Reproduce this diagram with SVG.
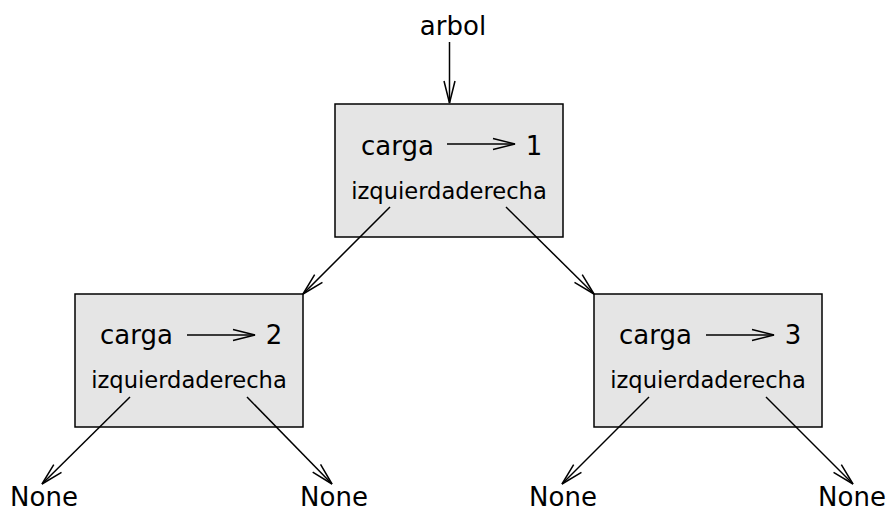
<svg xmlns="http://www.w3.org/2000/svg" width="887" height="507" viewBox="0 0 887 507">
<defs>
<marker id="arr" markerUnits="userSpaceOnUse" markerWidth="26" markerHeight="14" refX="22" refY="7" orient="auto" overflow="visible">
<path d="M0,1.5 L22,7 L0,12.5" fill="none" stroke="#000" stroke-width="1.5"/>
</marker>
</defs>
<style>
.box{fill:#e5e5e5;stroke:#000;stroke-width:1.5}
.t{font-family:"DejaVu Sans",sans-serif;fill:#000}
.big{font-size:26px}
.sm{font-size:22.6px}
.c{stroke:#000;stroke-width:1.5;fill:none;marker-end:url(#arr)}
</style>
<rect width="887" height="507" fill="#fff"/>
<g id="arbol"><text class="t big" x="453" y="35" text-anchor="middle">arbol</text></g>
<g id="node1">
<rect class="box" x="335" y="104" width="228" height="133"/>
<text class="t big" x="361" y="155">carga</text>
<line class="c" x1="447" y1="144" x2="515" y2="144"/>
<text class="t big" x="534" y="155" text-anchor="middle">1</text>
<text class="t sm" x="449" y="199" text-anchor="middle">izquierdaderecha</text>
</g>
<g id="node2">
<rect class="box" x="75" y="294" width="228" height="133"/>
<text class="t big" x="100" y="344">carga</text>
<line class="c" x1="187" y1="335" x2="255" y2="335"/>
<text class="t big" x="274" y="344" text-anchor="middle">2</text>
<text class="t sm" x="189" y="388" text-anchor="middle">izquierdaderecha</text>
</g>
<g id="node3">
<rect class="box" x="594" y="294" width="228" height="133"/>
<text class="t big" x="619" y="344">carga</text>
<line class="c" x1="706" y1="335" x2="774" y2="335"/>
<text class="t big" x="793" y="344" text-anchor="middle">3</text>
<text class="t sm" x="708" y="388" text-anchor="middle">izquierdaderecha</text>
</g>
<g id="none1"><text class="t big" x="44" y="506" text-anchor="middle">None</text></g>
<g id="none2"><text class="t big" x="334" y="506" text-anchor="middle">None</text></g>
<g id="none3"><text class="t big" x="563" y="506" text-anchor="middle">None</text></g>
<g id="none4"><text class="t big" x="852" y="506" text-anchor="middle">None</text></g>
<g id="connectors">
<line class="c" x1="449.5" y1="42" x2="449.5" y2="103"/>
<line class="c" x1="390" y1="207" x2="303" y2="294"/>
<line class="c" x1="506" y1="207" x2="594" y2="294"/>
<line class="c" x1="130" y1="397" x2="42" y2="484"/>
<line class="c" x1="247" y1="397" x2="332" y2="484"/>
<line class="c" x1="649" y1="397" x2="562" y2="484"/>
<line class="c" x1="766" y1="397" x2="853" y2="484"/>
</g>
</svg>
